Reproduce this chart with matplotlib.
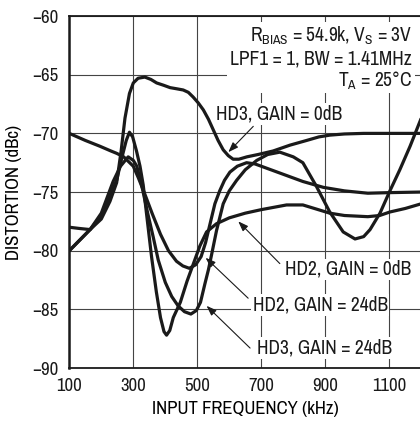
#!/usr/bin/env python3
"""
Distortion vs input frequency (HD2/HD3 at gain 0dB and 24dB).
"""

import matplotlib
matplotlib.use("Agg")
import matplotlib.pyplot as plt
from matplotlib.patches import Rectangle

plt.rcParams["font.family"] = ["Archivo Narrow", "DejaVu Sans"]
plt.rcParams["mathtext.fontset"] = "custom"
plt.rcParams["mathtext.rm"] = "Archivo Narrow"
plt.rcParams["mathtext.default"] = "rm"

# ── data ──
hd3_0db_f = [100, 130, 165, 200, 227, 248, 262, 274, 288, 300, 315, 336, 355, 373,
             395, 415, 436, 456, 472, 487, 503, 519, 535, 550, 565, 581, 597, 612,
             630, 655, 690, 737, 790, 842, 880, 914, 960, 1020, 1100, 1200]
hd3_0db_db = [-78.0, -78.1, -78.2, -77.3, -75.8, -74.2, -71.5, -68.7, -66.6, -65.7,
              -65.3, -65.2, -65.4, -65.7, -65.9, -66.1, -66.2, -66.3, -66.5, -66.9,
              -67.4, -68.0, -68.8, -69.7, -70.6, -71.4, -71.9, -72.2, -72.2, -72.0,
              -71.8, -71.5, -71.0, -70.6, -70.3, -70.15, -70.05, -70.0, -70.0, -70.0]

hd2_0db_f = [100, 165, 200, 227, 248, 265, 278, 288, 298, 310, 321, 331, 342, 357,
             372, 385, 396, 404, 414, 425, 447, 468, 488, 508, 529, 560, 600, 650,
             700, 779, 830, 914, 960, 1033, 1070, 1102, 1150, 1200]
hd2_0db_db = [-80.0, -78.2, -77.0, -75.3, -74.0, -72.0, -70.6, -69.9, -70.3, -71.5,
              -72.8, -74.4, -77.0, -80.5, -83.5, -85.7, -86.9, -87.2, -86.8, -85.7,
              -84.4, -82.6, -81.1, -79.6, -78.4, -77.7, -77.2, -76.8, -76.5, -76.1,
              -76.1, -76.8, -77.0, -77.1, -77.0, -76.7, -76.4, -76.0]

hd2_24db_f = [100, 150, 196, 230, 248, 270, 300, 316, 335, 360, 385, 410, 435, 455,
              475, 495, 512, 526, 540, 555, 570, 585, 602, 625, 654, 680, 720, 790,
              830, 894, 960, 1033, 1100, 1200]
hd2_24db_db = [-70.0, -70.6, -71.1, -71.5, -71.7, -72.0, -72.8, -73.8, -75.1, -76.9,
               -78.6, -80.0, -80.9, -81.3, -81.5, -81.2, -80.5, -79.3, -77.7, -76.0,
               -74.9, -74.0, -73.3, -72.8, -72.5, -72.6, -73.0, -73.7, -74.1, -74.6,
               -74.9, -75.1, -75.05, -75.0]

hd3_24db_f = [100, 165, 200, 237, 260, 284, 300, 311, 326, 345, 362, 378, 400, 420,
              440, 460, 480, 497, 510, 524, 535, 545, 560, 581, 600, 623, 650, 686,
              720, 758, 800, 830, 872, 914, 956, 993, 1020, 1040, 1071, 1102, 1133,
              1165, 1200]
hd3_24db_db = [-80.0, -78.2, -76.8, -74.1, -72.8, -72.0, -72.3, -72.8, -74.4, -76.8,
               -78.8, -80.8, -82.7, -83.9, -84.7, -85.2, -85.4, -85.1, -84.4, -82.8,
               -81.6, -80.3, -78.3, -76.0, -74.9, -74.0, -73.1, -72.3, -71.8, -71.6,
               -72.0, -72.5, -74.5, -76.7, -78.4, -79.0, -78.8, -78.2, -76.8, -74.9,
               -73.1, -71.1, -68.7]

x_ticks = [100, 300, 500, 700, 900, 1100]
y_ticks = [-90, -85, -80, -75, -70, -65, -60]

# (label, text position, arrow tail, arrow tip)
labels = [
    ("HD3, GAIN = 0dB", (558, -68.35), (675, -69.4), (597, -71.6)),
    ("HD2, GAIN = 0dB", (774, -81.6), (758, -81.1), (628, -77.5)),
    ("HD2, GAIN = 24dB", (673, -84.6), (659, -84.05), (526, -80.6)),
    ("HD3, GAIN = 24dB", (686, -88.3), (665, -88.3), (529, -84.7)),
]


def main():
    fig = plt.figure(figsize=(4.2, 4.23), dpi=100)
    ax = fig.add_axes([0.165, 0.130, 0.838, 0.832])

    for f, d in [(hd3_0db_f, hd3_0db_db), (hd2_0db_f, hd2_0db_db),
                 (hd2_24db_f, hd2_24db_db), (hd3_24db_f, hd3_24db_db)]:
        ax.plot(f, d, color="#1a1a1a", lw=2.3, solid_capstyle="round",
                solid_joinstyle="round", zorder=3)

    ax.set_xlim(100, 1200)
    ax.set_ylim(-90, -60)
    ax.set_xticks(x_ticks)
    ax.set_yticks(y_ticks)
    ax.tick_params(length=0, labelsize=13.5, colors="#1a1a1a")
    ax.tick_params(axis="x", pad=7)
    ax.tick_params(axis="y", pad=8)
    ax.grid(True, color="#444444", lw=0.8, zorder=1)
    for s in ax.spines.values():
        s.set_linewidth(1.3)
        s.set_color("#1a1a1a")
    ax.spines["left"].set_linewidth(1.8)

    ax.set_xlabel("INPUT FREQUENCY (kHz)", fontsize=13.5, labelpad=5)
    ax.set_ylabel("DISTORTION (dBc)", fontsize=13.5)
    ax.yaxis.set_label_coords(-0.135, 0.5)

    # condition block, upper right
    ax.add_patch(Rectangle((0.448, 0.781), 0.534, 0.202, transform=ax.transAxes,
                           facecolor="white", edgecolor="none", zorder=2))
    cond = ["$R_{BIAS}$ = 54.9k, $V_S$ = 3V", "LPF1 = 1, BW = 1.41MHz", "$T_A$ = 25°C"]
    for txt, yy in zip(cond, [0.926, 0.861, 0.799]):
        ax.text(0.974, yy, txt, transform=ax.transAxes, ha="right", va="baseline",
                fontsize=14, color="#1a1a1a", zorder=4)

    for txt, pos, tail, tip in labels:
        ax.text(pos[0], pos[1], txt, ha="left", va="center", fontsize=14,
                color="#1a1a1a", zorder=4,
                bbox=dict(facecolor="white", edgecolor="none", pad=1))
        ax.annotate("", xy=tip, xytext=tail,
                    arrowprops=dict(arrowstyle="-|>,head_length=0.6,head_width=0.22",
                                    color="#1a1a1a", lw=0.8, shrinkA=0, shrinkB=0),
                    zorder=4)

    fig.savefig("out.png", dpi=100)
    plt.close(fig)


if __name__ == "__main__":
    main()
